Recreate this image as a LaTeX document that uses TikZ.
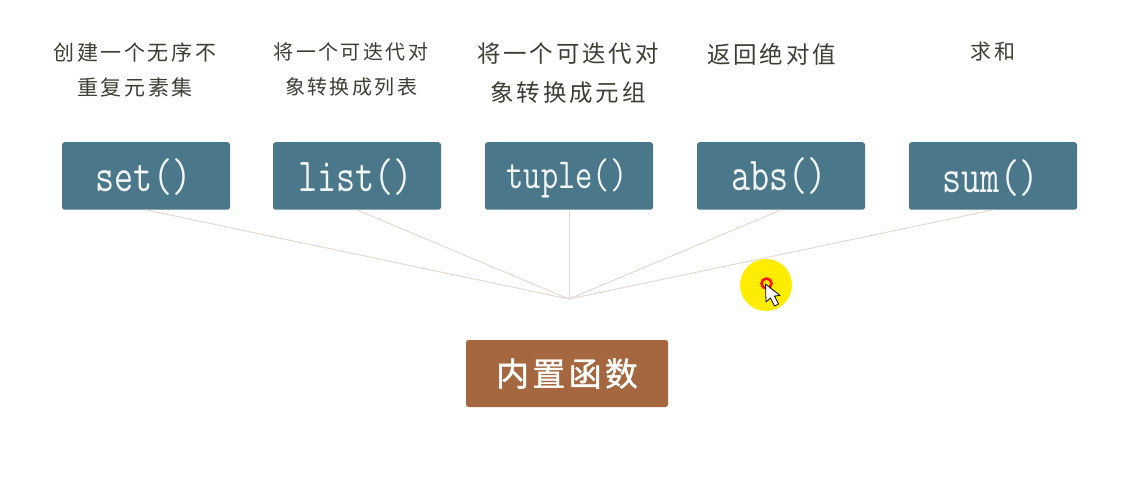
\documentclass[tikz,border=0pt]{standalone}
\usepackage{graphicx}
\usepackage{fontspec}
\setmainfont{DejaVu Serif}
\newfontfamily\cjka[LetterSpace=12]{Noto Sans CJK SC}
\newfontfamily\cjkc[LetterSpace=10,FakeBold=1.2]{Noto Sans CJK SC}
\definecolor{tealbox}{HTML}{4A7789}
\definecolor{brownbox}{HTML}{A5673F}
\definecolor{linkline}{HTML}{E4DAD3}
\definecolor{inkc}{HTML}{3E3E36}
\definecolor{boxtext}{HTML}{F2F6F7}
\newcommand{\tallfn}[1]{\scalebox{1}[1.28]{#1}}
\tikzset{
  x=1pt,y=-1pt,
  fnbox/.style={fill=tealbox,rounded corners=2.5pt,minimum width=168pt,minimum height=67.5pt,inner sep=0pt,text=boxtext},
  fnlabel/.style={text=boxtext,inner sep=0pt,anchor=base,font=\ttfamily\fontsize{37}{40}\selectfont},
  basebox/.style={fill=brownbox,rounded corners=2.5pt,minimum width=202pt,minimum height=67pt,inner sep=0pt,text=white,font=\cjkc\fontsize{33}{35}\selectfont},
  caption/.style={text=inkc,align=center,inner sep=0pt},
  linkedge/.style={draw=linkline,line width=1pt},
}
\begin{document}
\begin{tikzpicture}
\useasboundingbox (0,0) rectangle (1121,478);
\fill[white] (0,0) rectangle (1121,478);
\node[fnbox] (set) at (146,176) {};
\node[fnbox] (list) at (357,176) {};
\node[fnbox] (tuple) at (569,176) {};
\node[fnbox] (abs) at (781,176) {};
\node[fnbox] (sum) at (993,176) {};
\node[fnlabel] (t1) at (143.5,192) {\tallfn{set()}};
\node[fnlabel] (t2) at (355.5,192) {\tallfn{list()}};
\node[fnlabel,font=\ttfamily\fontsize{33.5}{40}\selectfont] (t3) at (567,189) {\tallfn{tuple()}};
\node[fnlabel] (t4) at (779,191) {\tallfn{abs()}};
\node[fnlabel] (t5) at (990.5,193) {\tallfn{sum()}};
\node[basebox] (base) at (567,373.5) {内置函数};
\coordinate (hub) at (569,299);
\foreach \n in {set,list,tuple,abs,sum}
  \draw[linkedge] (\n.south) -- (hub);
\node[caption,font=\cjka\fontsize{21}{35}\selectfont] (c1) at (135,69.5) {创建一个无序不\\重复元素集};
\node[caption,font=\cjka\fontsize{20}{35}\selectfont] (c2) at (351,69.5) {将一个可迭代对\\象转换成列表};
\node[caption,font=\cjka\fontsize{23.5}{39}\selectfont] (c3) at (568,73.5) {将一个可迭代对\\象转换成元组};
\node[caption,font=\cjka\fontsize{23.5}{24}\selectfont] (c4) at (771.5,54) {返回绝对值};
\node[caption,font=\cjka\fontsize{21}{24}\selectfont] (c5) at (993,52) {求和};
% pointer highlight
\fill[yellow!95!orange] (766,285) circle (26);
\draw[red!85!orange,line width=2.6pt] (766.5,283.5) circle (5);
\draw[black,fill=white,line width=0.8pt,line join=round] (765.5,284) -- (766,302) -- (770.5,298) -- (774.5,306) -- (778.5,304) -- (774.5,296) -- (780,295.5) -- cycle;
\end{tikzpicture}
\end{document}
